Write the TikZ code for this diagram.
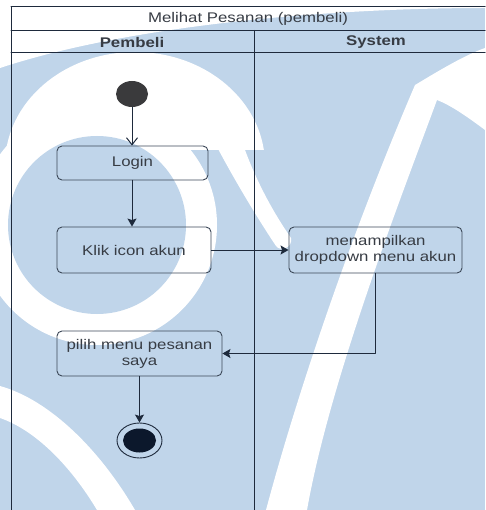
\documentclass[tikz,border=0pt]{standalone}
\usepackage{fontspec}
\setmainfont{Liberation Sans}
\usetikzlibrary{arrows.meta,shapes.geometric}

\definecolor{wmblue}{RGB}{192,213,234}
\definecolor{lane}{RGB}{30,42,60}
\definecolor{boxline}{RGB}{60,72,88}
\definecolor{txt}{RGB}{55,60,68}
\definecolor{startgray}{RGB}{58,58,60}
\definecolor{stopfill}{RGB}{12,24,44}
\newcommand{\wide}[1]{\scalebox{1.2}[1]{#1}}

\begin{document}
\begin{tikzpicture}[line cap=round,line join=round,x=1pt,y=-1pt,
  >={Stealth[length=8pt,width=9pt,inset=1.5pt]},
  act/.style={draw=boxline,line width=0.9pt,rounded corners=5pt,text=txt,align=center,inner sep=0pt,font=\fontsize{14}{16}\selectfont},
  head/.style={text=txt,inner sep=0pt,font=\fontsize{14}{16}\selectfont},
  flow/.style={->,draw=lane,line width=1pt}]

\useasboundingbox (0,0) rectangle (485,510);

% watermark
\fill[wmblue] (0,0) rectangle (485,510);
\fill[white] (0,0) -- (485,0) -- (485,8) .. controls (330,8) and (130,25) .. (0,68) -- cycle;
\begin{scope}
  \clip (0,50) rectangle (270,150);
  \fill[white] (135,165) ellipse[x radius=130pt,y radius=113pt];
\end{scope}
\fill[white] (97,225) circle[radius=120pt];
\fill[white] (245,150) .. controls (258,185) and (275,215) .. (291,238) .. controls (293,248) and (280,252) .. (276,246) .. controls (262,225) and (240,190) .. (217,147) -- (225,140) -- cycle;
\fill[wmblue] (97,225) circle[radius=89pt];
\fill[white] (266,510) .. controls (290,420) and (340,260) .. (415,85) .. controls (440,70) and (465,55) .. (485,48) -- (485,130) .. controls (465,115) and (450,105) .. (437,100) .. controls (400,200) and (330,380) .. (307,510) -- cycle;
\fill[white] (0,386) .. controls (50,400) and (100,450) .. (135,510) -- (97,510) .. controls (70,465) and (35,430) .. (0,418) -- cycle;

% swimlanes
\draw[lane,line width=1pt] (11,7) -- (485,7);
\draw[lane,line width=1pt] (11,30.5) -- (485,30.5);
\draw[lane,line width=1pt] (11,53) -- (485,53);
\draw[lane,line width=1pt] (11,7) -- (11,510);
\draw[lane,line width=1pt] (254,30.5) -- (254,510);

\node[head] (ttl) at (248,19) {\wide{Melihat Pesanan (pembeli)}};
\node[head] (hpembeli) at (132,42) {\wide{\bfseries Pembeli}};
\node[head] (hsystem) at (376,42) {\wide{\bfseries System}};

% activities
\node[ellipse,fill=startgray,minimum width=32pt,minimum height=26pt,inner sep=0pt] (start) at (132,94) {};
\node[act,minimum width=151pt,minimum height=34pt] (login) at (132.5,163) {\wide{Login}};
\node[act,minimum width=154pt,minimum height=46pt] (klik) at (134,250) {\wide{Klik icon akun}};
\node[act,minimum width=173pt,minimum height=46pt] (tampil) at (375.5,250) {\wide{menampilkan}\\\wide{dropdown menu akun}};
\node[act,minimum width=165pt,minimum height=45pt] (pilih) at (139.5,353.5) {\wide{pilih menu pesanan}\\\wide{saya}};
\node[ellipse,draw=lane,line width=0.9pt,minimum width=45pt,minimum height=35pt,inner sep=0pt] (stop) at (139.5,440.5) {};
\node[ellipse,fill=stopfill,minimum width=33pt,minimum height=24pt,inner sep=0pt] (stopdot) at (stop.center) {};

\draw[lane,line width=1pt,-{Straight Barb[length=7pt,width=11pt]}] (start.south) -- (start.south |- login.north);
\draw[flow] (start.south |- login.south) -- (start.south |- klik.north);
\draw[flow] (klik) -- (tampil);
\draw[flow] (tampil.south) |- (pilih.east);
\draw[flow] (pilih.south) -- (stop.north);
\end{tikzpicture}
\end{document}
